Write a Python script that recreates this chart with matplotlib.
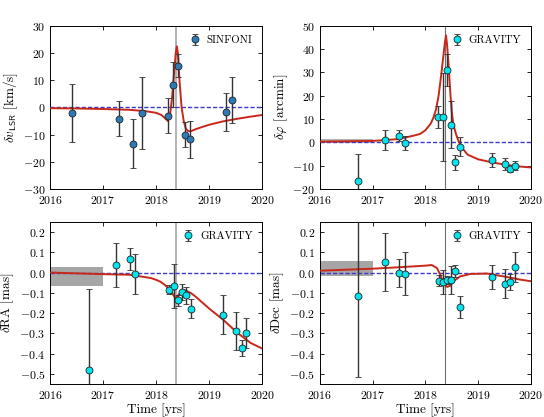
import matplotlib
matplotlib.use("Agg")
import matplotlib.pyplot as plt
import numpy as np

plt.rcParams['font.family'] = 'serif'
plt.rcParams['font.serif'] = ['cmr10', 'DejaVu Serif']
plt.rcParams['mathtext.fontset'] = 'cm'
plt.rcParams['axes.formatter.use_mathtext'] = True
plt.rcParams['axes.unicode_minus'] = True

T_PERI = 2018.38

# ---- SINFONI: velocity residuals
v_t = [2016.41, 2017.30, 2017.56, 2017.73, 2018.22, 2018.32, 2018.41, 2018.54, 2018.63, 2019.32, 2019.43]
v_y = [-2.1, -4.1, -13.3, -2.0, -3.1, 8.3, 15.3, -10.0, -11.8, -1.6, 2.6]
v_e = [10.8, 6.3, 9.0, 13.3, 6.5, 8.3, 4.2, 4.7, 6.7, 7.0, 8.5]
v_mod_t = [2016, 2016.5, 2017, 2017.5, 2017.8, 2018.0, 2018.1, 2018.18, 2018.22, 2018.26, 2018.30,
           2018.34, 2018.37, 2018.39, 2018.41, 2018.44, 2018.48, 2018.52, 2018.56, 2018.60, 2018.65,
           2018.75, 2018.9, 2019.0, 2019.25, 2019.5, 2019.75, 2020]
v_mod = [-0.3, -0.4, -0.6, -0.9, -1.4, -2.0, -2.8, -4.2, -5.0, -3.0, 3.5,
         13.0, 20.0, 22.5, 20.0, 10.0, 0.0, -5.0, -7.8, -8.7, -8.8,
         -8.0, -7.0, -6.4, -5.2, -4.3, -3.5, -2.8]

# ---- GRAVITY: position angle residuals
g_t = [2016.73, 2017.24, 2017.50, 2017.61, 2018.24, 2018.34, 2018.41, 2018.48, 2018.57, 2018.65,
       2019.27, 2019.50, 2019.61, 2019.70]
phi_y = [-16.4, 1.0, 2.9, -0.3, 10.8, 10.8, 31.0, 7.6, -8.6, -1.9, -7.6, -9.3, -11.6, -10.0]
phi_e = [11.4, 4.1, 2.3, 3.1, 4.8, 19.0, 7.0, 10.2, 3.2, 4.1, 3.0, 2.7, 1.2, 2.1]
phi_mod_t = [2016, 2016.5, 2017, 2017.5, 2017.8, 2017.9, 2018.0, 2018.1, 2018.15, 2018.2, 2018.25,
             2018.3, 2018.34, 2018.37, 2018.39, 2018.41, 2018.44, 2018.47, 2018.5, 2018.53, 2018.58,
             2018.63, 2018.7, 2018.8, 2019.0, 2019.2, 2019.5, 2019.75, 2020]
phi_mod = [0.3, 0.45, 0.6, 1.4, 3.0, 3.6, 5.2, 8.0, 10.5, 14.0, 20.0,
           29.0, 37.0, 43.0, 45.9, 42.0, 33.0, 22.0, 13.0, 7.6, 3.5,
           0.4, -2.5, -5.3, -7.3, -8.3, -9.6, -10.3, -10.8]

# ---- GRAVITY: RA residuals
ra_t = [2016.74, 2017.25, 2017.51, 2017.61, 2018.25, 2018.34, 2018.41, 2018.48, 2018.56, 2018.65,
        2019.26, 2019.50, 2019.61, 2019.70]
ra_y = [-0.481, 0.038, 0.067, -0.008, -0.084, -0.067, -0.136, -0.095, -0.112, -0.179,
        -0.207, -0.289, -0.373, -0.297]
ra_e = [0.40, 0.107, 0.055, 0.10, 0.023, 0.11, 0.027, 0.04, 0.042, 0.047,
        0.095, 0.093, 0.04, 0.073]
ra_mod_t = [2016, 2016.5, 2017, 2017.5, 2017.8, 2017.9, 2018.0, 2018.08, 2018.15, 2018.21, 2018.26,
            2018.30, 2018.36, 2018.40, 2018.45, 2018.49, 2018.55, 2018.65, 2018.75, 2018.84, 2019.02,
            2019.26, 2019.53, 2019.78, 2020]
ra_mod = [0.0, -0.004, -0.008, -0.011, -0.023, -0.027, -0.036, -0.045, -0.058, -0.072, -0.088,
          -0.10, -0.125, -0.118, -0.10, -0.092, -0.088, -0.10, -0.12, -0.141, -0.182,
          -0.232, -0.297, -0.347, -0.375]

# ---- GRAVITY: Dec residuals
dec_t = [2016.73, 2017.24, 2017.50, 2017.61, 2018.25, 2018.33, 2018.41, 2018.48, 2018.57, 2018.65,
         2019.27, 2019.50, 2019.61, 2019.70]
dec_y = [-0.117, 0.052, -0.002, -0.005, -0.040, -0.048, -0.038, -0.037, 0.008, -0.170,
         -0.022, -0.056, -0.048, 0.027]
dec_e = [0.40, 0.144, 0.068, 0.106, 0.028, 0.06, 0.02, 0.07, 0.031, 0.053,
         0.06, 0.072, 0.04, 0.073]
dec_mod_t = [2016, 2016.5, 2017, 2017.5, 2018.0, 2018.12, 2018.22, 2018.28, 2018.34, 2018.41, 2018.47,
             2018.53, 2018.66, 2018.85, 2019.17, 2019.48, 2019.80, 2020]
dec_mod = [0.009, 0.014, 0.019, 0.026, 0.034, 0.037, 0.022, -0.01, -0.052, -0.071, -0.065,
           -0.043, -0.019, -0.007, -0.005, -0.019, -0.035, -0.043]

# grey boxes (2016-2017 uncertainty bands)
phi_box = [-0.2, 1.5]
ra_box = [-0.066, 0.026]
dec_box = [-0.019, 0.055]

fig = plt.figure(figsize=(5.44, 4.17), dpi=100)
ax1 = fig.add_axes([0.092, 0.547, 0.390, 0.391])
ax2 = fig.add_axes([0.588, 0.547, 0.388, 0.391])
ax3 = fig.add_axes([0.092, 0.079, 0.390, 0.389])
ax4 = fig.add_axes([0.588, 0.079, 0.388, 0.389])

red = '#c8281a'
blue = '#3a3acc'


def style(ax):
    ax.set_xlim(2016, 2020)
    ax.set_xticks([2016, 2017, 2018, 2019, 2020])
    ax.tick_params(direction='in', top=True, right=True, labelsize=8.5, length=3, width=0.6)
    for s in ax.spines.values():
        s.set_linewidth(0.7)


def draw(ax, t, y, e, mt, my, fc, label, vcol, vlw):
    ax.axvline(T_PERI, color=vcol, lw=vlw, zorder=1)
    ax.axhline(0, color=blue, ls='--', lw=1.0, dashes=(3, 1.5), zorder=2)
    ax.plot(mt, my, color=red, lw=1.4, zorder=3)
    ax.errorbar(t, y, yerr=e, fmt='o', ms=5, mfc=fc, mec='#222222', mew=0.6,
                ecolor='#333333', elinewidth=1.0, capsize=2, capthick=0.8,
                zorder=4, label=label)
    ax.legend(loc='upper right', frameon=False, fontsize=7.8, handletextpad=0.5,
              handlelength=1.2, borderaxespad=0.5)
    style(ax)


draw(ax1, v_t, v_y, v_e, v_mod_t, v_mod, '#2b7bb9', 'SINFONI', '#b4b4b4', 1.4)
ax1.set_ylim(-30, 30)
ax1.set_yticks([-30, -20, -10, 0, 10, 20, 30])
ax1.set_ylabel(r'$\delta v_{\mathsf{LSR}}$ [km/s]', fontsize=9.5, labelpad=2)

draw(ax2, g_t, phi_y, phi_e, phi_mod_t, phi_mod, '#00e5ee', 'GRAVITY', '#707070', 0.8)
ax2.fill_between([2016, 2017], phi_box[0], phi_box[1], color='grey', alpha=0.6, lw=0, zorder=1)
ax2.set_ylim(-20, 50)
ax2.set_yticks([-20, -10, 0, 10, 20, 30, 40, 50])
ax2.set_ylabel(r'$\delta\varphi$ [arcmin]', fontsize=9.5, labelpad=2)

draw(ax3, ra_t, ra_y, ra_e, ra_mod_t, ra_mod, '#00e5ee', 'GRAVITY', '#b4b4b4', 1.4)
ax3.fill_between([2016, 2017], ra_box[0], ra_box[1], color='grey', alpha=0.7, lw=0, zorder=1)
ax3.set_ylim(-0.55, 0.25)
ax3.set_yticks([-0.5, -0.4, -0.3, -0.2, -0.1, 0.0, 0.1, 0.2])
ax3.set_ylabel(r'$\delta$RA [mas]', fontsize=9.5, labelpad=2)
ax3.set_xlabel('Time [yrs]', fontsize=9.5, labelpad=2)

draw(ax4, dec_t, dec_y, dec_e, dec_mod_t, dec_mod, '#00e5ee', 'GRAVITY', '#707070', 0.8)
ax4.fill_between([2016, 2017], dec_box[0], dec_box[1], color='grey', alpha=0.7, lw=0, zorder=1)
ax4.set_ylim(-0.55, 0.25)
ax4.set_yticks([-0.5, -0.4, -0.3, -0.2, -0.1, 0.0, 0.1, 0.2])
ax4.set_ylabel(r'$\delta$Dec [mas]', fontsize=9.5, labelpad=2)
ax4.set_xlabel('Time [yrs]', fontsize=9.5, labelpad=2)

fig.savefig('out.png', dpi=100)
